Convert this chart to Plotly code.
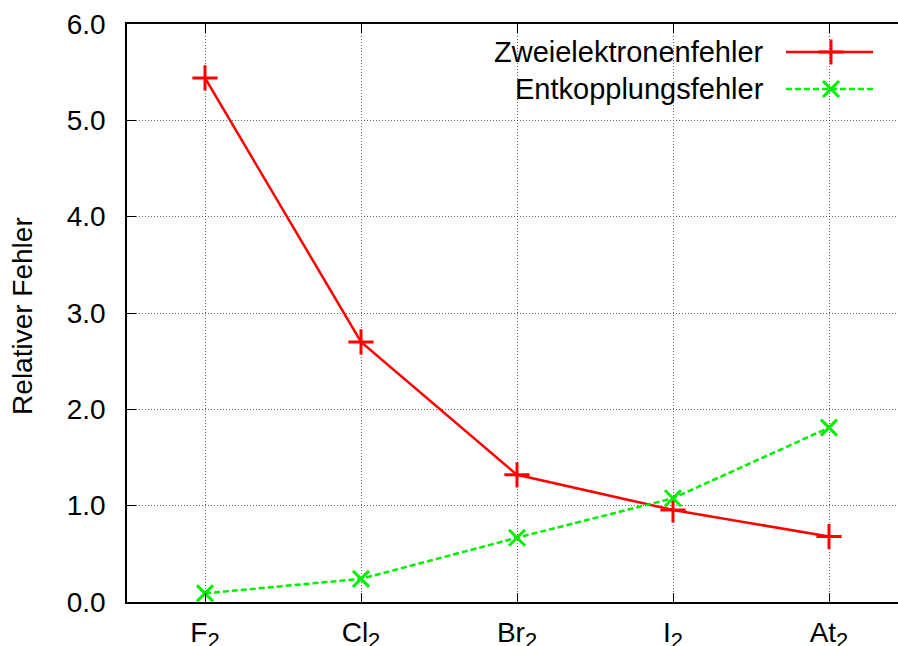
import plotly.graph_objects as go

SUB = "<sub><span style='font-size:22px'>2</span></sub>"
categories = ["F" + SUB, "Cl" + SUB, "Br" + SUB, "I" + SUB, "At" + SUB]
zweielektronen = [5.44, 2.70, 1.32, 0.955, 0.68]
entkopplung = [0.09, 0.24, 0.667, 1.077, 1.81]
series_names = ["Zweielektronenfehler", "Entkopplungsfehler"]
y_ticks = [0, 1, 2, 3, 4, 5, 6]

FONT = "Liberation Sans, Arial, Helvetica, sans-serif"
FS = 28
RED = "#ff0000"
GREEN = "#00ee00"

xs = list(range(len(categories)))

fig = go.Figure()
fig.add_trace(go.Scatter(
    x=xs, y=zweielektronen, mode="lines+markers", name=series_names[0],
    line=dict(color=RED, width=2.5),
    marker=dict(symbol="cross-thin", size=18, line=dict(color=RED, width=3)),
    showlegend=False,
))
fig.add_trace(go.Scatter(
    x=xs, y=entkopplung, mode="lines+markers", name=series_names[1],
    line=dict(color=GREEN, width=2.5, dash="6px,3px"),
    marker=dict(symbol="x-thin", size=16, line=dict(color=GREEN, width=3)),
    showlegend=False,
))

# Legend samples (drawn on an overlay axis in plot-fraction coordinates)
leg_x0, leg_x1, leg_xm = 0.8547, 0.9676, 0.9131
leg_rows = [0.9516, 0.8875]
fig.add_trace(go.Scatter(
    x=[leg_x0, leg_x1], y=[leg_rows[0]] * 2, mode="lines", xaxis="x2", yaxis="y2",
    line=dict(color=RED, width=2.5), showlegend=False, hoverinfo="skip"))
fig.add_trace(go.Scatter(
    x=[leg_xm], y=[leg_rows[0]], mode="markers", xaxis="x2", yaxis="y2",
    marker=dict(symbol="cross-thin", size=18, line=dict(color=RED, width=3)),
    showlegend=False, hoverinfo="skip"))
fig.add_trace(go.Scatter(
    x=[leg_x0, leg_x1], y=[leg_rows[1]] * 2, mode="lines", xaxis="x2", yaxis="y2",
    line=dict(color=GREEN, width=2.5, dash="6px,3px"), showlegend=False, hoverinfo="skip"))
fig.add_trace(go.Scatter(
    x=[leg_xm], y=[leg_rows[1]], mode="markers", xaxis="x2", yaxis="y2",
    marker=dict(symbol="x-thin", size=16, line=dict(color=GREEN, width=3)),
    showlegend=False, hoverinfo="skip"))

annotations = []
for name, yy in zip(series_names, leg_rows):
    annotations.append(dict(
        text=name, x=0.8288, y=yy, xref="paper", yref="paper",
        xanchor="right", yanchor="middle", showarrow=False,
        font=dict(family=FONT, size=29, color="black")))
annotations.append(dict(
    text="Relativer Fehler", x=(23 - 127) / 771, y=0.495, xref="paper", yref="paper",
    xanchor="center", yanchor="middle", textangle=-90, showarrow=False,
    font=dict(family=FONT, size=FS, color="black")))

fig.update_layout(
    width=898, height=646,
    margin=dict(l=127, r=0, t=24, b=44, pad=0),
    paper_bgcolor="white", plot_bgcolor="white",
    font=dict(family=FONT, size=FS, color="black"),
    annotations=annotations,
    xaxis=dict(
        range=[-0.5, -0.5 + 771 / 156], tickmode="array", tickvals=xs, ticktext=categories,
        showline=True, linecolor="black", linewidth=1.5, mirror="ticks",
        ticks="inside", ticklen=9, tickwidth=1.2, tickcolor="black",
        showgrid=True, gridcolor="#666666", gridwidth=1, griddash="1px,2px",
        zeroline=False, automargin=False, ticklabelstandoff=5,
        tickfont=dict(family=FONT, size=FS, color="black"),
    ),
    yaxis=dict(
        range=[0, 6], tickmode="array", tickvals=y_ticks,
        ticktext=[f"{v:.1f}" for v in y_ticks],
        showline=True, linecolor="black", linewidth=1.5, mirror=False,
        ticks="inside", ticklen=9, tickwidth=1.2, tickcolor="black",
        showgrid=True, gridcolor="#666666", gridwidth=1, griddash="1px,2px",
        zeroline=False, automargin=False, ticklabelstandoff=14,
        tickfont=dict(family=FONT, size=FS, color="black"),
    ),
    xaxis2=dict(overlaying="x", range=[0, 1], visible=False, fixedrange=True),
    yaxis2=dict(overlaying="y", range=[0, 1], visible=False, fixedrange=True),
)

fig.write_html("out.html")
